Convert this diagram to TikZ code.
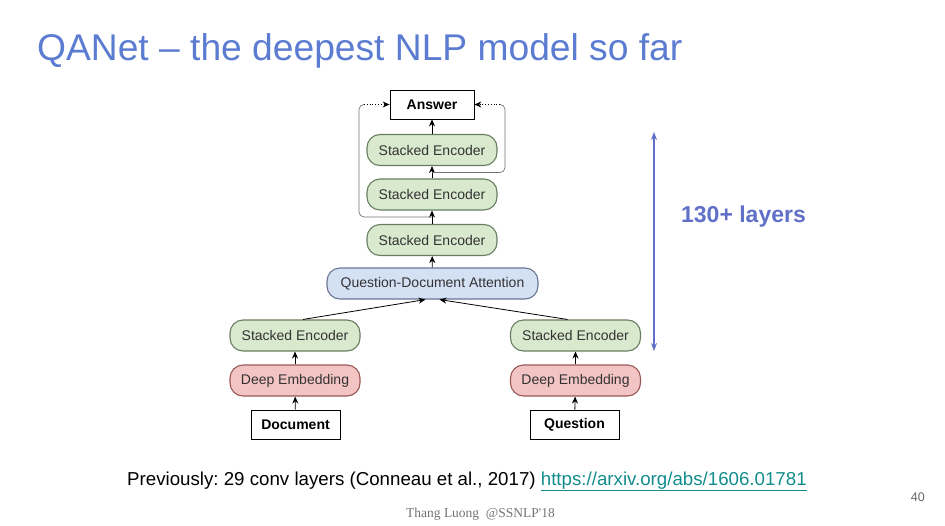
\documentclass[tikz,border=0pt]{standalone}
\usepackage{fontspec}
\setmainfont{Liberation Sans}
\newfontfamily\footfont{Liberation Serif}
\usetikzlibrary{arrows.meta}
\frenchspacing
\definecolor{titleblue}{RGB}{92,124,210}
\definecolor{layerblue}{RGB}{96,112,200}
\definecolor{encfill}{RGB}{216,233,206}
\definecolor{encdraw}{RGB}{104,126,96}
\definecolor{embfill}{RGB}{243,196,196}
\definecolor{embdraw}{RGB}{155,88,88}
\definecolor{attfill}{RGB}{212,224,244}
\definecolor{attdraw}{RGB}{108,118,146}
\definecolor{linkteal}{RGB}{20,140,140}
\tikzset{
  pill/.style={rounded corners=13pt, minimum width=130pt, minimum height=31pt, line width=1.1pt,
    font=\fontsize{14}{16}\selectfont, text=black!80, inner sep=0pt},
  enc/.style={pill, fill=encfill, draw=encdraw},
  emb/.style={pill, fill=embfill, draw=embdraw},
  att/.style={pill, fill=attfill, draw=attdraw, minimum width=211pt},
  iobox/.style={draw=black, fill=white, line width=0.8pt, minimum width=89pt, minimum height=29pt,
    inner sep=0pt, font=\bfseries\fontsize{14}{16}\selectfont},
  arr/.style={-{Stealth[length=7pt,width=6pt]}, line width=0.8pt, black},
  loopline/.style={draw=black!55, line width=0.7pt, rounded corners=5pt},
}
\begin{document}
\begin{tikzpicture}[x=1pt,y=-1pt]
\useasboundingbox (0,0) rectangle (945,525);
\node[anchor=base west, inner sep=0pt, text=titleblue, font=\fontsize{37.2}{44}\selectfont] (title) at (37,60) {QANet – the deepest NLP model so far};

\node[iobox, minimum width=84pt] (ans) at (432,104.5) {Answer};
\node[enc] (se1) at (432,150) {Stacked Encoder};
\node[enc] (se2) at (432,194.5) {Stacked Encoder};
\node[enc] (se3) at (432,240) {Stacked Encoder};
\node[att] (qda) at (432.5,283.5) {Question-Document Attention};
\node[enc] (lse) at (295,335.5) {Stacked Encoder};
\node[emb] (lde) at (295,380.5) {Deep Embedding};
\node[iobox] (doc) at (295.5,424.5) {Document};
\node[enc] (rse) at (575.5,335.5) {Stacked Encoder};
\node[emb] (rde) at (575.5,380.5) {Deep Embedding};
\node[iobox] (que) at (574.5,424.5) {Question};

\draw[arr] (doc) -- (lde);
\draw[arr] (que) -- (rde);
\draw[arr] (lde) -- (lse);
\draw[arr] (rde) -- (rse);
\draw[arr] ([xshift=8pt]lse.north) -- ([xshift=-7pt]qda.south);
\draw[arr] ([xshift=-8pt]rse.north) -- ([xshift=7pt]qda.south);
\draw[arr] (qda) -- (se3);
\draw[arr] (se3) -- (se2);
\draw[arr] (se2) -- (se1);
\draw[arr] (se1) -- (ans);

% residual loops
\coordinate (j1) at (432,217);
\coordinate (j2) at (432,172.5);
\coordinate (lc) at (359,217);
\coordinate (lt) at (359,104.5);
\coordinate (ld) at (364,104.5);
\coordinate (rc) at (505,172.5);
\coordinate (rt) at (505,104.5);
\coordinate (rd) at (500,104.5);
\draw[loopline] (j1) -- (lc) -- (lt) -- (ld);
\draw[loopline] (j2) -- (rc) -- (rt) -- (rd);
\draw[arr, dotted, line width=0.8pt] (ld) -- (ans.west);
\draw[arr, dotted, line width=0.8pt] (rd) -- (ans.east);

% layers arrow
\coordinate (lat) at (654,132);
\coordinate (lab) at (654,351);
\draw[{Stealth[length=8pt,width=6pt]}-{Stealth[length=8pt,width=6pt]}, layerblue, line width=1.2pt] (lat) -- (lab);
\node[text=layerblue, font=\bfseries\fontsize{23}{28}\selectfont, inner sep=0pt] (lay) at (743.5,217) {130+ layers};

\node[anchor=base west, inner sep=0pt, font=\fontsize{18.7}{22}\selectfont] (prev) at (127,485)
  {Previously: 29 conv layers (Conneau et al., 2017) \textcolor{linkteal}{\underline{https://arxiv.org/abs/1606.01781}}};
\node[anchor=base east, inner sep=0pt, text=black!60, font=\fontsize{12.5}{14}\selectfont] (num) at (925,501) {40};
\node[anchor=base, inner sep=0pt, text=black!55, font=\footfont\fontsize{13.5}{15}\selectfont] (foot) at (480.5,517) {Thang Luong\ \ @SSNLP'18};
\end{tikzpicture}
\end{document}
